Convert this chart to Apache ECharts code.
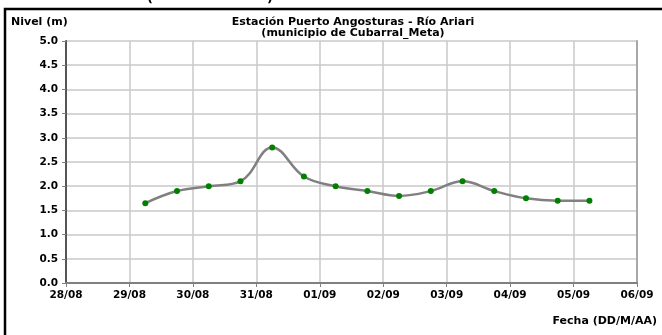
<!DOCTYPE html>
<html><head><meta charset="utf-8">
<script src="https://cdn.jsdelivr.net/npm/echarts@6/dist/echarts.min.js"></script>
<style>html,body{margin:0;padding:0;background:#fff}#c{width:662px;height:335px}</style>
</head><body><div id="c"></div>
<script>
var fechas = ['2019-08-29T06:00','2019-08-29T18:00','2019-08-30T06:00','2019-08-30T18:00','2019-08-31T06:00','2019-08-31T18:00','2019-09-01T06:00','2019-09-01T18:00','2019-09-02T06:00','2019-09-02T18:00','2019-09-03T06:00','2019-09-03T18:00','2019-09-04T06:00','2019-09-04T18:00','2019-09-05T06:00'];
var nivel = [1.65,1.9,2.0,2.1,2.8,2.2,2.0,1.9,1.8,1.9,2.1,1.9,1.75,1.7,1.7];
var ejeInicio = '2019-08-28T00:00', ejeFin = '2019-09-06T00:00';
var DAY = 86400000;
function utc(s){return Date.parse(s + 'Z');}
function pad(n){return (n<10?'0':'')+n;}
var data = fechas.map(function(f,i){return [utc(f), nivel[i]];});
var chart = echarts.init(document.getElementById('c'), null, {renderer:'canvas'});
var FF = '"DejaVu Sans", Verdana, sans-serif';
chart.setOption({
  animation:false,
  backgroundColor:'#fff',
  grid:{left:66,right:25,top:41,bottom:52},
  graphic:[
    {type:'rect', shape:{x:5,y:9,width:700,height:400}, style:{fill:'none',stroke:'#000',lineWidth:2.5}, silent:true},
    {type:'text', left:147, top:-8, style:{text:'(', font:'bold 13px '+FF, fill:'#000'}},
    {type:'text', left:267, top:-8, style:{text:')', font:'bold 13px '+FF, fill:'#000'}},
    {type:'text', left:11, top:17, style:{text:'Nivel (m)', font:'bold 11px '+FF, fill:'#000'}},
    {type:'text', right:5, top:316, style:{text:'Fecha (DD/M/AA)', font:'bold 11px '+FF, fill:'#000'}}
  ],
  title:{
    text:'Estación Puerto Angosturas - Río Ariari\n(municipio de Cubarral_Meta)',
    left:353, top:17, textAlign:'center', padding:0,
    textStyle:{fontFamily:FF, fontWeight:'bold', fontSize:11, color:'#000', lineHeight:11}
  },
  xAxis:{
    type:'value', min:utc(ejeInicio), max:utc(ejeFin), interval:DAY,
    axisLine:{show:true, onZero:false, lineStyle:{color:'#808080', width:2}},
    axisTick:{show:true, length:4, lineStyle:{color:'#808080'}},
    splitLine:{show:true, lineStyle:{color:'#c8c8c8', width:1.5}},
    axisLabel:{margin:7, fontFamily:FF, fontWeight:'bold', fontSize:10.5, color:'#000',
      formatter:function(v){var d=new Date(v);return pad(d.getUTCDate())+'/'+pad(d.getUTCMonth()+1);}}
  },
  yAxis:[{
    type:'value', min:0, max:5, interval:0.5,
    axisLine:{show:true, lineStyle:{color:'#555', width:2}},
    axisTick:{show:true, length:4, lineStyle:{color:'#808080'}},
    splitLine:{show:true, lineStyle:{color:'#c8c8c8', width:1.5}},
    axisLabel:{margin:8, fontFamily:FF, fontWeight:'bold', fontSize:10.5, color:'#000',
      formatter:function(v){return v.toFixed(1);}}
  },{
    type:'value', min:0, max:5, interval:0.5, position:'right',
    axisLine:{show:true, lineStyle:{color:'#a8a8a8', width:2}},
    axisTick:{show:false}, axisLabel:{show:false}, splitLine:{show:false}
  }],
  series:[{
    type:'line', data:data, smooth:0.4,
    lineStyle:{color:'#808080', width:2.5},
    symbol:'circle', symbolSize:6,
    itemStyle:{color:'#008000', borderWidth:0}
  }]
});
</script></body></html>
